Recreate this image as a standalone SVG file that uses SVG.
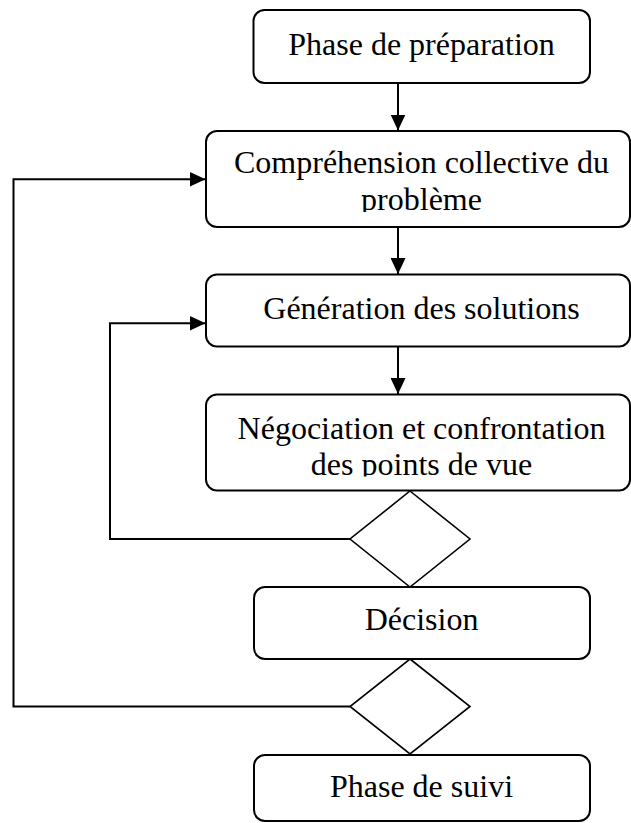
<svg xmlns="http://www.w3.org/2000/svg" width="631" height="823" viewBox="0 0 631 823">
  <style>
    .box { fill: #ffffff; stroke: #000000; stroke-width: 2; }
    .dia { fill: #ffffff; stroke: #000000; stroke-width: 1.6; }
    .lbl { font-family: "Liberation Serif", "Times New Roman", serif; font-size: 32px; fill: #000000; text-anchor: middle; }
    .con { fill: none; stroke: #000000; stroke-width: 2; }
  </style>
  <defs>
    <marker id="arr" markerUnits="userSpaceOnUse" markerWidth="16" markerHeight="15" refX="16" refY="7.5" orient="auto">
      <path d="M0,0 L16,7.5 L0,15 Z" fill="#000000"/>
    </marker>
    <clipPath id="clip2"><rect x="206" y="131" width="424" height="81"/></clipPath>
    <clipPath id="clip4"><rect x="206" y="394.5" width="424" height="82"/></clipPath>
  </defs>
  <rect width="631" height="823" fill="#ffffff"/>

  <g id="connectors">
    <line class="con" x1="398" y1="83" x2="398" y2="130.5" marker-end="url(#arr)"/>
    <line class="con" x1="398" y1="227" x2="398" y2="274" marker-end="url(#arr)"/>
    <line class="con" x1="398" y1="346.5" x2="398" y2="394" marker-end="url(#arr)"/>
    <polyline class="con" points="350,539 110,539 110,323.3 205.5,323.3" marker-end="url(#arr)"/>
    <polyline class="con" points="350,706.5 13.5,706.5 13.5,179.3 205.5,179.3" marker-end="url(#arr)"/>
  </g>

  <g id="n1">
    <rect class="box" x="253.5" y="10" width="336.5" height="73" rx="11"/>
    <text class="lbl" x="421.5" y="55">Phase de préparation</text>
  </g>
  <g id="n2">
    <rect class="box" x="206" y="131" width="424" height="96" rx="11"/>
    <g clip-path="url(#clip2)">
      <text class="lbl" x="421.5" y="173.3">Compréhension collective du</text>
      <text class="lbl" x="421.5" y="210">problème</text>
    </g>
  </g>
  <g id="n3">
    <rect class="box" x="206" y="274.5" width="424" height="72" rx="11"/>
    <text class="lbl" x="421.5" y="318.5">Génération des solutions</text>
  </g>
  <g id="n4">
    <rect class="box" x="206" y="394.5" width="424" height="96" rx="11"/>
    <g clip-path="url(#clip4)">
      <text class="lbl" x="421.5" y="438.5">Négociation et confrontation</text>
      <text class="lbl" x="421.5" y="475">des points de vue</text>
    </g>
  </g>
  <g id="d1">
    <polygon class="dia" points="410,491 470,539 410,587 350,539"/>
  </g>
  <g id="n5">
    <rect class="box" x="254" y="587" width="336" height="72" rx="11"/>
    <text class="lbl" x="421.5" y="630">Décision</text>
  </g>
  <g id="d2">
    <polygon class="dia" points="410,659 470,706.5 410,754 350,706.5"/>
  </g>
  <g id="n6">
    <rect class="box" x="254" y="755" width="336" height="66" rx="11"/>
    <text class="lbl" x="421.5" y="797">Phase de suivi</text>
  </g>
</svg>
